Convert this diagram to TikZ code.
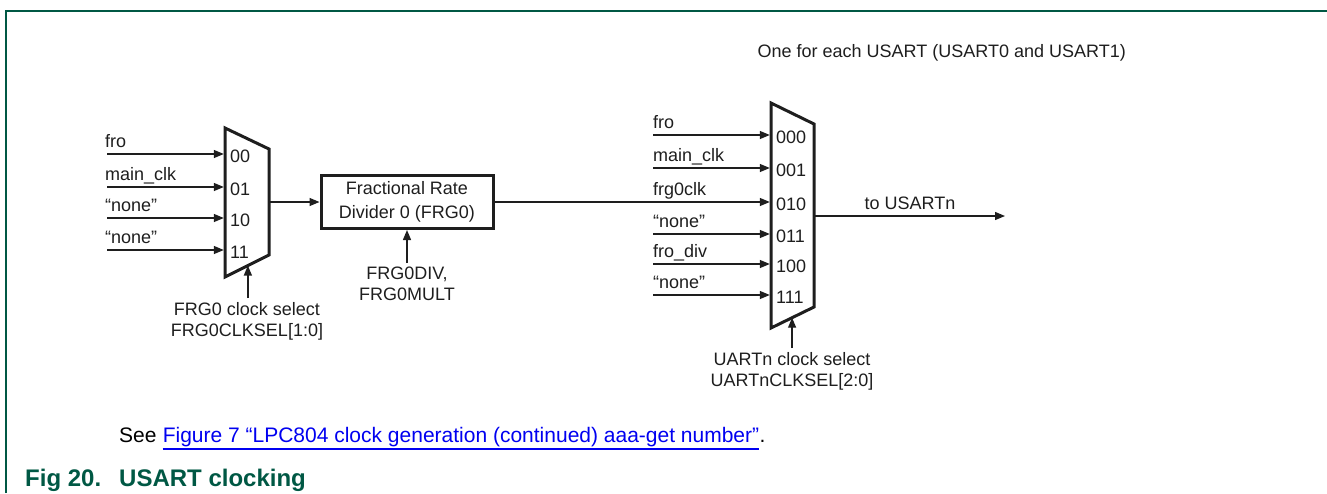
\documentclass[tikz,border=0pt]{standalone}
\usepackage{fontspec}
\setmainfont{Liberation Sans}
\usetikzlibrary{arrows.meta,calc}
\definecolor{nxpgreen}{RGB}{0,88,68}
\definecolor{linkblue}{RGB}{0,0,240}
\definecolor{ink}{RGB}{30,30,30}
\begin{document}
\begin{tikzpicture}[x=1pt,y=-1pt,
  wire/.style={draw=ink, line width=1.3pt, -{Triangle[length=10pt,width=8pt]}},
  plain/.style={draw=ink, line width=1.3pt},
  muxbody/.style={draw=ink, line width=3pt, line join=miter},
  lbl/.style={font=\fontsize{18}{21}\selectfont, text=ink, inner sep=0pt},
  bitlbl/.style={lbl, anchor=west},
  inlbl/.style={lbl, anchor=base west},
  sellbl/.style={lbl, anchor=north, align=center},
  divbox/.style={draw=ink, line width=3pt, minimum width=172pt, minimum height=53pt,
    font=\fontsize{18}{24}\selectfont, text=ink, align=center, inner sep=0pt}]
\useasboundingbox (0,0) rectangle (1327,493);
% frame
\draw[nxpgreen, line width=1.8pt] (6,493) -- (6,10.7) -- (1327,10.7);
% ---------- mux 1 ----------
\coordinate (m1tl) at (225,128);
\coordinate (m1tr) at (269,149);
\coordinate (m1br) at (269,255);
\coordinate (m1bl) at (225,277);
\draw[muxbody] (m1tl) -- (m1tr) -- (m1br) -- (m1bl) -- cycle;
\foreach \i/\y/\t/\b in {1/154/fro/00, 2/187/main\_clk/01, 3/218/“none”/10, 4/250/“none”/11}{
  \coordinate (m1s\i) at (107,\y);
  \coordinate (m1e\i) at (225,\y);
  \draw[wire, shorten >=1.2pt] (m1s\i) -- (m1e\i);
  \node[inlbl] (m1l\i) at (105,\y-7) {\t};
  \node[bitlbl] (m1b\i) at (230,\y+2) {\b};
}
\coordinate (m1out) at (269,202);
% select of mux 1
\node[sellbl] (m1sel) at (247,302) {FRG0 clock select\\FRG0CLKSEL[1:0]};
\coordinate (m1selend) at ($(m1bl)!0.52!(m1br)$);
\draw[wire] (m1sel.north -| m1selend) ++(0,-4) -- (m1selend);
% ---------- FRG box ----------
\node[divbox] (frg) at (407,202) {Fractional Rate\\Divider 0 (FRG0)};
\draw[wire] (m1out) -- (m1out -| frg.west);
\node[sellbl] (frgsel) at (407,267) {FRG0DIV,\\FRG0MULT};
\draw[wire] ([yshift=4pt]frgsel.north) -- (frg.south);
% ---------- mux 2 ----------
\coordinate (m2tl) at (771,103);
\coordinate (m2tr) at (814,124);
\coordinate (m2br) at (814,307);
\coordinate (m2bl) at (771,328);
\draw[muxbody] (m2tl) -- (m2tr) -- (m2br) -- (m2bl) -- cycle;
\foreach \i/\y/\t/\b in {1/135/fro/000, 2/168/main\_clk/001, 4/234/“none”/011, 5/264/fro\_div/100, 6/295/“none”/111}{
  \coordinate (m2s\i) at (653,\y);
  \coordinate (m2e\i) at (771,\y);
  \draw[wire, shorten >=1.2pt] (m2s\i) -- (m2e\i);
  \node[inlbl] (m2l\i) at (653,\y-7) {\t};
  \node[bitlbl] (m2b\i) at (776,\y+2) {\b};
}
% input 010 from FRG
\coordinate (m2e3) at (771,202);
\draw[wire, shorten >=1.2pt] (frg.east) -- (m2e3);
\node[inlbl] (m2l3) at (653,195) {frg0clk};
\node[bitlbl] (m2b3) at (776,204) {010};
% output
\coordinate (m2out) at (814,216);
\coordinate (usart) at (1005,216);
\draw[wire] (m2out) -- (usart);
\node[lbl, anchor=base] (tolbl) at (910,209) {to USARTn};
% select of mux 2
\node[sellbl] (m2sel) at (792,352) {UARTn clock select\\UARTnCLKSEL[2:0]};
\coordinate (m2selend) at ($(m2bl)!0.49!(m2br)$);
\draw[wire] (m2sel.north -| m2selend) ++(0,-4) -- (m2selend);
% top note
\node[lbl, anchor=base east] (note) at (1126,57) {One for each USART (USART0 and USART1)};
% see line
\node[font=\fontsize{21}{24}\selectfont, text=black, inner sep=0pt, anchor=base west] (see) at (119,442) {See};
\node[font=\fontsize{21}{24}\selectfont, text=linkblue, inner sep=0pt, anchor=base west] (link) at ([xshift=5.8pt]see.base east) {Figure 7 “LPC804 clock generation (continued) aaa-get number”};
\node[font=\fontsize{21}{24}\selectfont, text=black, inner sep=0pt, anchor=base west] (dot) at (link.base east) {.};
\draw[linkblue, line width=1.6pt] ([yshift=-7pt]link.base west) -- ([yshift=-7pt]link.base east);
% caption
\node[font=\fontsize{24}{28}\selectfont\bfseries, text=nxpgreen, inner sep=0pt, anchor=base west] (fig) at (25,486) {Fig 20.};
\node[font=\fontsize{24}{28}\selectfont\bfseries, text=nxpgreen, inner sep=0pt, anchor=base west] (cap) at (119,486) {USART clocking};
\end{tikzpicture}
\end{document}
